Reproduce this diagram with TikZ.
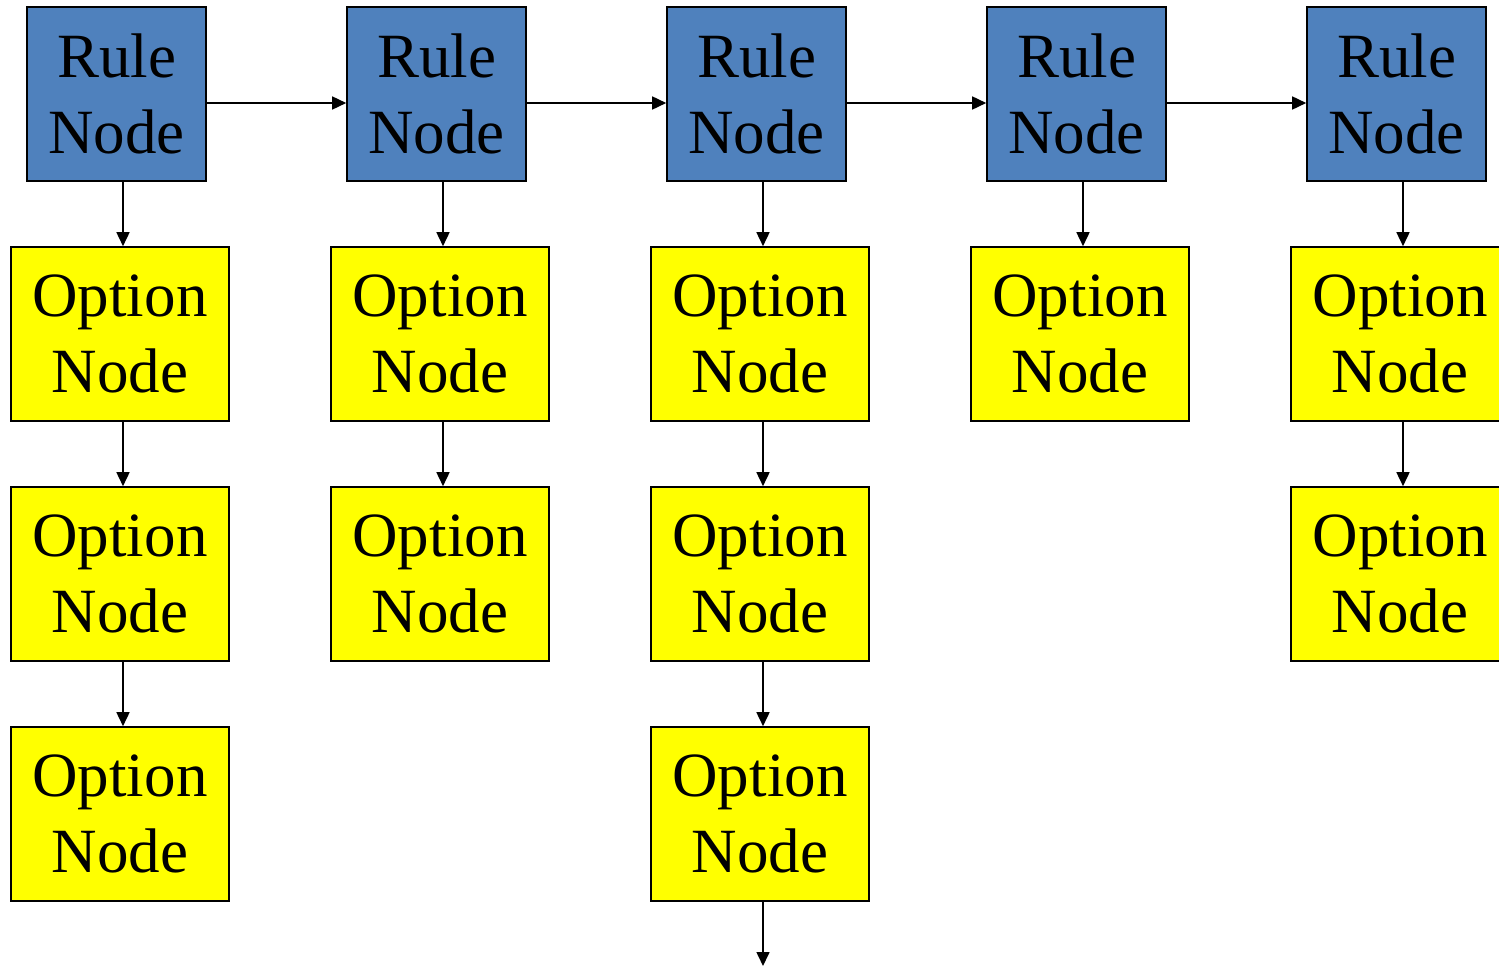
\documentclass[tikz,border=0pt]{standalone}
\usepackage{fontspec}
\setmainfont{Liberation Serif}
\usepackage{xcolor}
\usepackage{tikz}
\usetikzlibrary{arrows.meta,positioning}

\definecolor{ruleblue}{HTML}{4F81BD}
\definecolor{optyellow}{HTML}{FFFF00}

\begin{document}
\begin{tikzpicture}[
  x=1pt, y=-1pt,
  rulenode/.style={rectangle, draw=black, line width=1.6pt, fill=ruleblue, minimum width=179pt, minimum height=174pt, inner sep=0pt, align=center, font=\fontsize{63}{76}\selectfont},
  optnode/.style={rectangle, draw=black, line width=1.6pt, fill=optyellow, minimum width=218pt, minimum height=174pt, inner sep=0pt, align=center, font=\fontsize{63}{76}\selectfont},
  trans/.style={-{Triangle[length=14pt, width=13pt]}, line width=1.6pt}
]
\useasboundingbox (0,0) rectangle (1499,966);

\node[rulenode] (rule1) at (116.5, 94) {Rule\\Node};
\node[rulenode] (rule2) at (436.5, 94) {Rule\\Node};
\node[rulenode] (rule3) at (756.5, 94) {Rule\\Node};
\node[rulenode] (rule4) at (1076.5, 94) {Rule\\Node};
\node[rulenode] (rule5) at (1396.5, 94) {Rule\\Node};

\node[optnode] (opt11) at (120, 334) {Option\\Node};
\node[optnode] (opt12) at (120, 574) {Option\\Node};
\node[optnode] (opt13) at (120, 814) {Option\\Node};
\node[optnode] (opt21) at (440, 334) {Option\\Node};
\node[optnode] (opt22) at (440, 574) {Option\\Node};
\node[optnode] (opt31) at (760, 334) {Option\\Node};
\node[optnode] (opt32) at (760, 574) {Option\\Node};
\node[optnode] (opt33) at (760, 814) {Option\\Node};
\node[optnode] (opt41) at (1080, 334) {Option\\Node};
\node[optnode] (opt51) at (1400, 334) {Option\\Node};
\node[optnode] (opt52) at (1400, 574) {Option\\Node};

\coordinate (more) at (763, 966);

% Rule chain
\draw[trans] ([yshift=-9pt]rule1.east) -- ([yshift=-9pt]rule2.west);
\draw[trans] ([yshift=-9pt]rule2.east) -- ([yshift=-9pt]rule3.west);
\draw[trans] ([yshift=-9pt]rule3.east) -- ([yshift=-9pt]rule4.west);
\draw[trans] ([yshift=-9pt]rule4.east) -- ([yshift=-9pt]rule5.west);

% Option lists
\draw[trans] ([xshift=6.5pt]rule1.south) -- ([xshift=3pt]opt11.north);
\draw[trans] ([xshift=3pt]opt11.south) -- ([xshift=3pt]opt12.north);
\draw[trans] ([xshift=3pt]opt12.south) -- ([xshift=3pt]opt13.north);

\draw[trans] ([xshift=6.5pt]rule2.south) -- ([xshift=3pt]opt21.north);
\draw[trans] ([xshift=3pt]opt21.south) -- ([xshift=3pt]opt22.north);

\draw[trans] ([xshift=6.5pt]rule3.south) -- ([xshift=3pt]opt31.north);
\draw[trans] ([xshift=3pt]opt31.south) -- ([xshift=3pt]opt32.north);
\draw[trans] ([xshift=3pt]opt32.south) -- ([xshift=3pt]opt33.north);
\draw[trans] ([xshift=3pt]opt33.south) -- (more);

\draw[trans] ([xshift=6.5pt]rule4.south) -- ([xshift=3pt]opt41.north);

\draw[trans] ([xshift=6.5pt]rule5.south) -- ([xshift=3pt]opt51.north);
\draw[trans] ([xshift=3pt]opt51.south) -- ([xshift=3pt]opt52.north);

\end{tikzpicture}
\end{document}
